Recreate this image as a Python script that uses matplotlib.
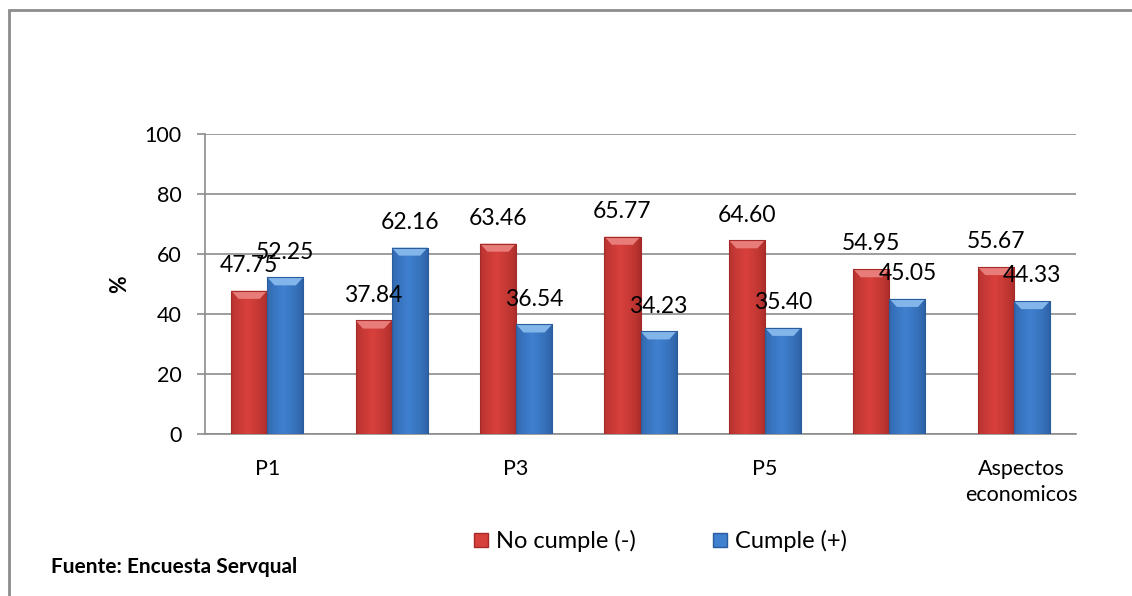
import numpy as np
import matplotlib
matplotlib.use("Agg")
import matplotlib.pyplot as plt
import matplotlib.transforms as mtransforms
from matplotlib.colors import to_rgb
from matplotlib.patches import Rectangle, Polygon
from matplotlib.lines import Line2D

# ---- data ----
categories = ["P1", "P2", "P3", "P4", "P5", "P6", "Aspectos\neconomicos"]
no_cumple = [47.75, 37.84, 63.46, 65.77, 64.60, 54.95, 55.67]
cumple = [52.25, 62.16, 36.54, 34.23, 35.40, 45.05, 44.33]
series_names = ["No cumple (-)", "Cumple (+)"]
y_ticks = [0, 20, 40, 60, 80, 100]

FONT = "Lato"
plt.rcParams["font.family"] = [FONT, "DejaVu Sans"]

fig = plt.figure(figsize=(11.32, 5.96), dpi=100)
W, H = 1132, 596
ax = fig.add_axes([205 / W, 1 - 434 / H, (1076 - 205) / W, (434 - 134) / H])

red = dict(mid="#D8403C", edge="#A42B28", top="#E77C78")
blue = dict(mid="#3F80CF", edge="#2A5C9E", top="#82B6EA")

bar_w = 0.29
x = np.arange(len(categories))


def bevel_bar(ax, xc, h, w, pal):
    x0 = xc - w / 2
    # horizontal shading across the bar face
    c_mid = np.array(to_rgb(pal["mid"]))
    c_edge = np.array(to_rgb(pal["edge"]))
    t = np.linspace(0, 1, 64)
    prof = np.clip(1 - np.abs(t - 0.45) / 0.55, 0, 1) ** 0.6
    row = c_edge[None, :] + (c_mid - c_edge)[None, :] * prof[:, None]
    img = np.repeat(row[None, :, :], 2, axis=0)
    rect = Rectangle((x0, 0), w, h, facecolor=pal["mid"], edgecolor="none", zorder=3)
    ax.add_patch(rect)
    im = ax.imshow(img, extent=(x0, x0 + w, 0, h), aspect="auto",
                   interpolation="bilinear", zorder=3.1, origin="lower")
    im.set_clip_path(rect)
    # light top bevel
    dy = 2.7
    dx = 0.06
    top = Polygon([(x0, h), (x0 + w, h), (x0 + w - dx, h - dy), (x0 + dx, h - dy)],
                  closed=True, facecolor=pal["top"], edgecolor="none", zorder=3.2)
    ax.add_patch(top)
    ax.add_patch(Rectangle((x0, 0), w, h, facecolor="none", edgecolor=pal["edge"],
                           linewidth=0.8, zorder=3.3))


label_kw = dict(ha="center", va="center", fontsize=16.5, color="black", zorder=5)
for i in range(len(categories)):
    xr = x[i] - bar_w / 2
    xb = x[i] + bar_w / 2
    bevel_bar(ax, xr, no_cumple[i], bar_w, red)
    bevel_bar(ax, xb, cumple[i], bar_w, blue)
    ax.text(xr, no_cumple[i] + 8.4, f"{no_cumple[i]:.2f}", **label_kw)
    ax.text(xb, cumple[i] + 8.4, f"{cumple[i]:.2f}", **label_kw)

ax.set_xlim(-0.5, len(categories) - 0.5)
ax.set_ylim(0, 100)
ax.set_yticks(y_ticks)
ax.set_yticklabels([str(v) for v in y_ticks], fontsize=15.5)
ax.set_xticks(x)
ax.set_xticklabels([c if i % 2 == 0 else "" for i, c in enumerate(categories)],
                   fontsize=15.5, linespacing=1.35)
ax.tick_params(axis="x", length=0, pad=18)
ax.tick_params(axis="y", length=6, width=1.2, color="#8c8c8c", pad=11, direction="out")
# the long last category label sits a little to the right
last = ax.get_xticklabels()[-1]
last.set_transform(last.get_transform() + mtransforms.ScaledTranslation(8 / 100, 0, fig.dpi_scale_trans))
ax.yaxis.grid(True, color="#8c8c8c", linewidth=1.2, zorder=0)
ax.set_axisbelow(True)
for s in ["top", "right"]:
    ax.spines[s].set_visible(False)
for s in ["left", "bottom"]:
    ax.spines[s].set_color("#8c8c8c")
    ax.spines[s].set_linewidth(1.2)

fig.text(120 / W, 1 - 284 / H, "%", rotation=90, ha="center", va="center",
         fontsize=15.5, fontweight="bold")

handles = [
    Line2D([], [], marker="s", linestyle="none", markersize=10,
           markerfacecolor=red["mid"], markeredgecolor=red["edge"]),
    Line2D([], [], marker="s", linestyle="none", markersize=10,
           markerfacecolor=blue["mid"], markeredgecolor=blue["edge"]),
]
fig.legend(handles, series_names, loc="center", bbox_to_anchor=(660 / W, 1 - 541 / H),
           ncol=2, frameon=False, fontsize=17, handlelength=0.7, handletextpad=0.3,
           columnspacing=3.2, borderaxespad=0)

fig.text(51 / W, 1 - 567 / H, "Fuente: Encuesta Servqual", ha="left", va="center",
         fontsize=15, fontweight="bold")

# outer frame around the figure
fig.add_artist(Rectangle((9 / W, -0.1), 1.2, 1 - 10 / H + 0.1, transform=fig.transFigure,
                         facecolor="none", edgecolor="#8c8c8c", linewidth=2))

fig.savefig("out.png", dpi=100)
